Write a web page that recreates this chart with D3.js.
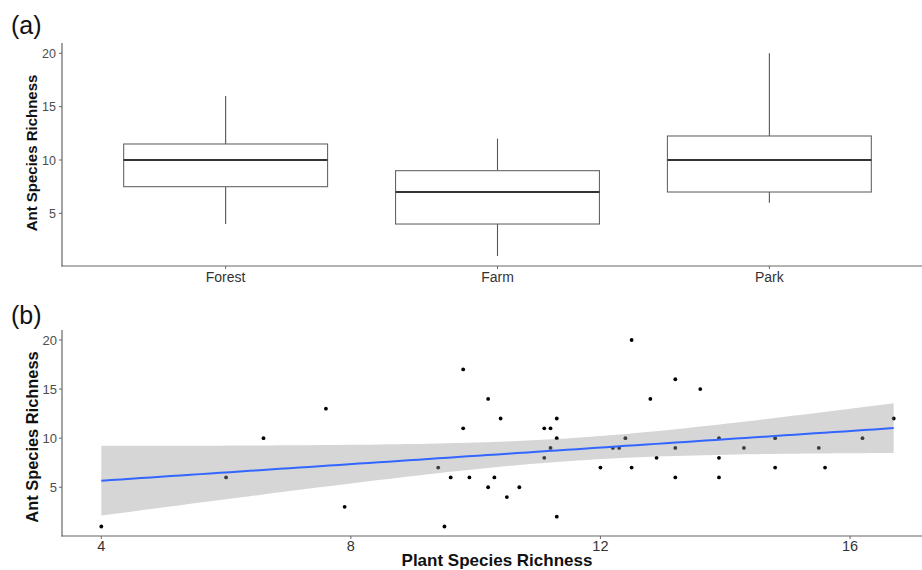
<!DOCTYPE html>
<html>
<head>
<meta charset="utf-8">
<script src="https://cdn.jsdelivr.net/npm/d3@7"></script>
<style>
  body { margin: 0; background: #fff; }
  svg { font-family: "Liberation Sans", Arial, sans-serif; }
</style>
</head>
<body>
<svg id="chart" width="922" height="570"></svg>
<script>
// (a) box plot summaries per site
var sites = ["Forest", "Farm", "Park"];
var whiskerLow = [4, 1, 6];
var q1 = [7.5, 4, 7];
var median = [10, 7, 10];
var q3 = [11.5, 9, 12.25];
var whiskerHigh = [16, 12, 20];

// (b) scatter: plant vs ant species richness
var plantRichness = [4, 6, 6.6, 7.6, 7.9,
	12.5, 9.8, 10.2, 12.8, 10.4, 11.3, 9.8, 11.1, 11.2, 11.3, 12.4, 11.2, 12.2, 12.3,
	11.1, 12.9, 9.4, 12, 12.5, 9.6, 9.9, 10.3, 10.2, 10.7, 10.5, 11.3, 9.5,
	13.2, 13.6, 16.7, 13.9, 14.8, 16.2, 13.2, 14.3, 15.5, 13.9, 14.8, 15.6, 13.2, 13.9];
var antRichness = [1, 6, 10, 13, 3,
	20, 17, 14, 14, 12, 12, 11, 11, 11, 10, 10, 9, 9, 9,
	8, 8, 7, 7, 7, 6, 6, 6, 5, 5, 4, 2, 1,
	16, 15, 12, 10, 10, 10, 9, 9, 9, 8, 7, 7, 6, 6];

var yTicks = [5, 10, 15, 20];
var xTicks = [4, 8, 12, 16];

var svg = d3.select("#chart");
var axisColor = "#666",
	tickText = "#4d4d4d";

// ---------- panel (a) ----------
var xa = d3.scaleBand().domain(sites).range([62.5, 932.5]).paddingOuter(0.225).paddingInner(0.25);
var ya = d3.scaleLinear().domain([0, 20]).range([266.7, 53.3]);

var ga = svg.append("g");

// 1. axis lines
ga.append("line").attr("x1", 62).attr("x2", 62).attr("y1", 43).attr("y2", 266.5)
	.attr("stroke", axisColor).attr("stroke-width", 1.2);
ga.append("line").attr("x1", 61.4).attr("x2", 922).attr("y1", 266).attr("y2", 266)
	.attr("stroke", axisColor).attr("stroke-width", 1.2);

// 2. boxes
var boxes = ga.selectAll("g.box").data(sites).enter().append("g").attr("class", "box");
boxes.each(function(s, i) {
	var g = d3.select(this);
	var x0 = xa(s), w = xa.bandwidth(), cx = x0 + w / 2;
	g.append("line").attr("x1", cx).attr("x2", cx).attr("y1", ya(whiskerHigh[i])).attr("y2", ya(q3[i]))
		.attr("stroke", "#555").attr("stroke-width", 1.1);
	g.append("line").attr("x1", cx).attr("x2", cx).attr("y1", ya(q1[i])).attr("y2", ya(whiskerLow[i]))
		.attr("stroke", "#555").attr("stroke-width", 1.1);
	g.append("rect").attr("x", x0).attr("y", ya(q3[i])).attr("width", w).attr("height", ya(q1[i]) - ya(q3[i]))
		.attr("fill", "#fff").attr("stroke", "#666").attr("stroke-width", 1.1);
	g.append("line").attr("x1", x0).attr("x2", x0 + w).attr("y1", ya(median[i])).attr("y2", ya(median[i]))
		.attr("stroke", "#333").attr("stroke-width", 2.2);
});

// 3. ticks and labels
ga.selectAll("line.ytick").data(yTicks).enter().append("line")
	.attr("x1", 59).attr("x2", 62).attr("y1", ya).attr("y2", ya)
	.attr("stroke", axisColor);
ga.selectAll("text.ylab").data(yTicks).enter().append("text")
	.attr("x", 56).attr("y", function(d) { return ya(d) + 4.5; })
	.attr("text-anchor", "end").attr("font-size", 12.5).attr("fill", tickText)
	.text(function(d) { return d; });
ga.selectAll("line.xtick").data(sites).enter().append("line")
	.attr("x1", function(d) { return xa(d) + xa.bandwidth() / 2; })
	.attr("x2", function(d) { return xa(d) + xa.bandwidth() / 2; })
	.attr("y1", 266).attr("y2", 269).attr("stroke", axisColor);
ga.selectAll("text.xlab").data(sites).enter().append("text")
	.attr("x", function(d) { return xa(d) + xa.bandwidth() / 2; })
	.attr("y", 282).attr("text-anchor", "middle").attr("font-size", 14).attr("fill", "#333")
	.text(function(d) { return d; });

ga.append("text").attr("transform", "translate(37,153) rotate(-90)")
	.attr("text-anchor", "middle").attr("font-size", 15).attr("font-weight", "bold").attr("fill", "#111")
	.text("Ant Species Richness");
ga.append("text").attr("x", 11).attr("y", 34).attr("font-size", 25).attr("fill", "#111").text("(a)");

// ---------- panel (b) ----------
var xb = d3.scaleLinear().domain([4, 16]).range([101.3, 850]);
var yb = d3.scaleLinear().domain([0, 20]).range([536.3, 340]);

var gb = svg.append("g");

// 1. linear fit with 95% confidence band (as geom_smooth method = "lm")
var n = plantRichness.length;
var mx = d3.mean(plantRichness), my = d3.mean(antRichness);
var sxx = d3.sum(plantRichness, function(x) { return (x - mx) * (x - mx); });
var sxy = d3.sum(plantRichness, function(x, i) { return (x - mx) * (antRichness[i] - my); });
var slope = sxy / sxx, intercept = my - slope * mx;
var sse = d3.sum(plantRichness, function(x, i) { var r = antRichness[i] - (intercept + slope * x); return r * r; });
var sigma = Math.sqrt(sse / (n - 2));
var tCrit = 2.015;
var xMin = d3.min(plantRichness), xMax = d3.max(plantRichness);
var fit = d3.range(0, 81).map(function(k) {
	var x = xMin + (xMax - xMin) * k / 80;
	var yhat = intercept + slope * x;
	var se = sigma * Math.sqrt(1 / n + (x - mx) * (x - mx) / sxx);
	return { x: x, y: yhat, lo: yhat - tCrit * se, hi: yhat + tCrit * se };
});

// 2. points (drawn below the band, as in ggplot)
gb.selectAll("circle").data(plantRichness).enter().append("circle")
	.attr("cx", function(d) { return xb(d); })
	.attr("cy", function(d, i) { return yb(antRichness[i]); })
	.attr("r", 1.9).attr("fill", "#000");

gb.append("path").datum(fit)
	.attr("d", d3.area().x(function(d) { return xb(d.x); }).y0(function(d) { return yb(d.lo); }).y1(function(d) { return yb(d.hi); }))
	.attr("fill", "#999").attr("fill-opacity", 0.4);
gb.append("path").datum(fit)
	.attr("d", d3.line().x(function(d) { return xb(d.x); }).y(function(d) { return yb(d.y); }))
	.attr("fill", "none").attr("stroke", "#3366FF").attr("stroke-width", 2);

// 3. axes
gb.append("line").attr("x1", 62).attr("x2", 62).attr("y1", 330).attr("y2", 536.5)
	.attr("stroke", axisColor).attr("stroke-width", 1.2);
gb.append("line").attr("x1", 61.4).attr("x2", 922).attr("y1", 536).attr("y2", 536)
	.attr("stroke", axisColor).attr("stroke-width", 1.2);
gb.selectAll("line.ytick").data(yTicks).enter().append("line")
	.attr("x1", 59).attr("x2", 62).attr("y1", yb).attr("y2", yb).attr("stroke", axisColor);
gb.selectAll("text.ylab").data(yTicks).enter().append("text")
	.attr("x", 57).attr("y", function(d) { return yb(d) + 4.5; })
	.attr("text-anchor", "end").attr("font-size", 13).attr("fill", tickText)
	.text(function(d) { return d; });
gb.selectAll("line.xtick").data(xTicks).enter().append("line")
	.attr("x1", xb).attr("x2", xb).attr("y1", 536).attr("y2", 539).attr("stroke", axisColor);
gb.selectAll("text.xlab").data(xTicks).enter().append("text")
	.attr("x", xb).attr("y", 551).attr("text-anchor", "middle").attr("font-size", 14.5).attr("fill", "#333")
	.text(function(d) { return d; });

gb.append("text").attr("x", 497).attr("y", 565.5).attr("text-anchor", "middle")
	.attr("font-size", 17).attr("font-weight", "bold").attr("fill", "#111")
	.text("Plant Species Richness");
gb.append("text").attr("transform", "translate(37.5,437) rotate(-90)")
	.attr("text-anchor", "middle").attr("font-size", 16.4).attr("font-weight", "bold").attr("fill", "#111")
	.text("Ant Species Richness");
gb.append("text").attr("x", 11).attr("y", 324).attr("font-size", 25).attr("fill", "#111").text("(b)");
</script>
</body>
</html>
